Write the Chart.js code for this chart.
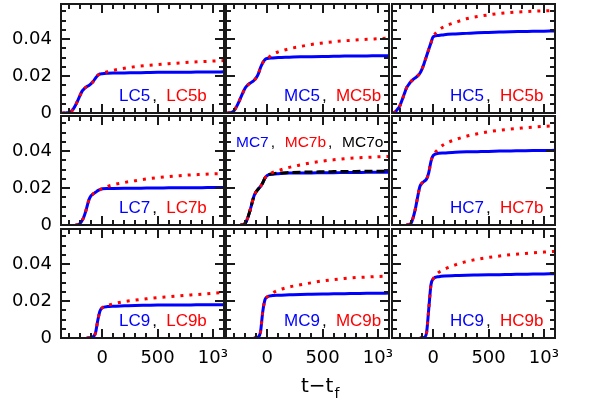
<!DOCTYPE html>
<html>
<head>
<meta charset="utf-8">
<script src="https://cdn.jsdelivr.net/npm/chart.js@4/dist/chart.umd.min.js"></script>
<style>
  html, body { margin: 0; padding: 0; background: #fff; }
  #fig { position: relative; width: 598px; height: 409px; overflow: hidden; }
  #fig canvas { position: absolute; }
</style>
</head>
<body>
<div id="fig"></div>
<script>
// shared time grid (t - t_f)
const times = [-360, -340, -320, -300, -280, -260, -240, -220, -200, -180, -160, -140, -120, -100, -80, -60, -40, -20, 0,
  50, 100, 200, 300, 400, 500, 600, 700, 800, 900, 1000, 1100]

// rise phase (t <= 0), blue and red curves coincide there
const lc5Rise = [0, 0, 0.0001, 0.0002, 0.0008, 0.0022, 0.0043, 0.0068, 0.0095, 0.012, 0.0133, 0.0142, 0.0149, 0.0159, 0.0172, 0.0189, 0.0204, 0.0211, 0.0213]
const mc5Rise = [0, 0.0001, 0.0003, 0.0012, 0.0031, 0.0055, 0.0082, 0.0109, 0.0134, 0.0149, 0.0159, 0.0167, 0.0176, 0.019, 0.0212, 0.0246, 0.0272, 0.0289, 0.0295]
const hc5Rise = [0, 0.0008, 0.0022, 0.004, 0.0072, 0.0105, 0.0137, 0.0155, 0.017, 0.0182, 0.0191, 0.0201, 0.0215, 0.0239, 0.0272, 0.0309, 0.0345, 0.038, 0.0413]
const lc7Rise = [null, null, null, null, null, null, 0, 0.0002, 0.0008, 0.0025, 0.0053, 0.0093, 0.0136, 0.0159, 0.0169, 0.0177, 0.0186, 0.0192, 0.0196]
const mc7Rise = [null, null, null, null, null, null, 0, 0.0002, 0.0008, 0.0032, 0.0068, 0.0112, 0.0156, 0.018, 0.0195, 0.0209, 0.0229, 0.0254, 0.0268]
const hc7Rise = [null, null, null, null, null, null, 0, 0.0003, 0.0009, 0.0042, 0.009, 0.0153, 0.0208, 0.0227, 0.0237, 0.0249, 0.0283, 0.0345, 0.0376]
const lc9Rise = [null, null, null, null, null, null, null, null, null, null, null, 0, 0.0001, 0.0002, 0.0008, 0.0028, 0.0095, 0.0146, 0.0163]
const mc9Rise = [null, null, null, null, null, null, null, null, null, null, null, null, 0, 0.0001, 0.0005, 0.0034, 0.0143, 0.0207, 0.0222]
const hc9Rise = [null, null, null, null, null, null, null, null, null, null, null, null, 0, 0.0001, 0.0004, 0.0028, 0.0158, 0.0288, 0.032]

// t > 0 : blue (runs), red (b runs), black (o run)
const lc5Tail = [0.0215, 0.0216, 0.0217, 0.0218, 0.0219, 0.022, 0.022, 0.0221, 0.0221, 0.0222, 0.0222, 0.0223]
const lc5bTail = [0.0224, 0.0231, 0.0242, 0.0251, 0.0257, 0.0262, 0.0267, 0.0271, 0.0275, 0.0278, 0.0281, 0.0284]
const mc5Tail = [0.0298, 0.03, 0.0302, 0.0304, 0.0305, 0.0306, 0.0307, 0.0308, 0.0309, 0.0309, 0.031, 0.031]
const mc5bTail = [0.0318, 0.0331, 0.0348, 0.036, 0.0371, 0.0379, 0.0386, 0.0391, 0.0395, 0.0399, 0.0402, 0.0405]
const hc5Tail = [0.042, 0.0424, 0.0428, 0.0431, 0.0434, 0.0436, 0.0438, 0.044, 0.0441, 0.0442, 0.0443, 0.0444]
const hc5bTail = [0.0448, 0.0468, 0.049, 0.051, 0.0522, 0.0531, 0.0539, 0.0544, 0.0548, 0.0551, 0.0553, 0.0555]
const lc7Tail = [0.0197, 0.0198, 0.0199, 0.0199, 0.02, 0.02, 0.0201, 0.0201, 0.0202, 0.0202, 0.0203, 0.0203]
const lc7bTail = [0.0209, 0.0218, 0.023, 0.024, 0.0249, 0.0256, 0.0262, 0.0267, 0.0271, 0.0274, 0.0277, 0.0279]
const mc7Tail = [0.0275, 0.0278, 0.0281, 0.0282, 0.0282, 0.0283, 0.0283, 0.0284, 0.0284, 0.0285, 0.0285, 0.0285]
const mc7bTail = [0.0285, 0.0295, 0.0312, 0.0325, 0.0337, 0.0346, 0.0353, 0.0359, 0.0363, 0.0366, 0.0369, 0.0371]
const mc7oTail = [0.0277, 0.0281, 0.0284, 0.0286, 0.0287, 0.0288, 0.0289, 0.029, 0.029, 0.0291, 0.0291, 0.0292]
const hc7Tail = [0.0388, 0.039, 0.0394, 0.0396, 0.0397, 0.0398, 0.04, 0.0401, 0.0402, 0.0403, 0.0403, 0.0404]
const hc7bTail = [0.0414, 0.0437, 0.0462, 0.048, 0.0494, 0.0505, 0.0513, 0.0519, 0.0525, 0.053, 0.0534, 0.0537]
const lc9Tail = [0.017, 0.0172, 0.0174, 0.0176, 0.0177, 0.0178, 0.0178, 0.0179, 0.0179, 0.018, 0.018, 0.018]
const lc9bTail = [0.0177, 0.0185, 0.0197, 0.0205, 0.0212, 0.0218, 0.0223, 0.0228, 0.0233, 0.0237, 0.0242, 0.0246]
const mc9Tail = [0.023, 0.0232, 0.0234, 0.0236, 0.0237, 0.0238, 0.0239, 0.024, 0.0241, 0.0242, 0.0242, 0.0243]
const mc9bTail = [0.0244, 0.0259, 0.0276, 0.0288, 0.0299, 0.0309, 0.0316, 0.0322, 0.0327, 0.033, 0.0333, 0.0335]
const hc9Tail = [0.0332, 0.0336, 0.0338, 0.034, 0.0341, 0.0342, 0.0343, 0.0344, 0.0345, 0.0346, 0.0347, 0.0348]
const hc9bTail = [0.0355, 0.0372, 0.0396, 0.0414, 0.0426, 0.0436, 0.0444, 0.0451, 0.0456, 0.0461, 0.0465, 0.0469]

const xTicks = [-300, -200, -100, 0, 100, 200, 300, 400, 500, 600, 700, 800, 900, 1000]
const xTickLabels = { 0: '0', 500: '500', 1000: '10³' }
const yTicks = [0, 0.005, 0.01, 0.015, 0.02, 0.025, 0.03, 0.035, 0.04, 0.045, 0.05, 0.055]
const yTickLabels = { 0: '0', 0.02: '0.02', 0.04: '0.04' }

const panels = [
  { name: 'LC5', rise: lc5Rise, blue: lc5Tail, red: lc5bTail },
  { name: 'MC5', rise: mc5Rise, blue: mc5Tail, red: mc5bTail },
  { name: 'HC5', rise: hc5Rise, blue: hc5Tail, red: hc5bTail },
  { name: 'LC7', rise: lc7Rise, blue: lc7Tail, red: lc7bTail },
  { name: 'MC7', rise: mc7Rise, blue: mc7Tail, red: mc7bTail, black: mc7oTail },
  { name: 'HC7', rise: hc7Rise, blue: hc7Tail, red: hc7bTail },
  { name: 'LC9', rise: lc9Rise, blue: lc9Tail, red: lc9bTail },
  { name: 'MC9', rise: mc9Rise, blue: mc9Tail, red: mc9bTail },
  { name: 'HC9', rise: hc9Rise, blue: hc9Tail, red: hc9bTail }
]

const colLeft = [61, 226, 392]
const rowTop = [4, 116, 229]
const panelW = 163, panelH = 109
const padL = 61, padT = 4, padR = 4

const BLUE = '#0000ff', RED = '#ff0000', INK = '#1a1a1a'

function points(vals) {
  return times.map((t, i) => ({ x: t, y: vals[i] })).filter(p => p.y !== null && p.y !== undefined)
}

const panelDeco = {
  id: 'panelDeco',
  afterDatasetsDraw(chart, args, opts) {
    const { ctx, chartArea: a } = chart
    const x = chart.scales.x, y = chart.scales.y
    ctx.save()
    ctx.strokeStyle = INK
    ctx.lineWidth = 2
    ctx.beginPath()
    x.ticks.forEach(t => {
      const px = Math.round(x.getPixelForValue(t.value))
      const len = (t.value in xTickLabels) ? 9 : 5
      ctx.moveTo(px, a.bottom); ctx.lineTo(px, a.bottom - len)
      ctx.moveTo(px, a.top); ctx.lineTo(px, a.top + len)
    })
    y.ticks.forEach(t => {
      const py = Math.round(y.getPixelForValue(t.value))
      const len = (t.value in yTickLabels) ? 9 : 5
      ctx.moveTo(a.left, py); ctx.lineTo(a.left + len, py)
      ctx.moveTo(a.right, py); ctx.lineTo(a.right - len, py)
    })
    ctx.stroke()
    ctx.strokeRect(a.left, a.top, a.right - a.left, a.bottom - a.top)

    // run labels
    ctx.textBaseline = 'alphabetic'
    ctx.textAlign = 'left'
    ctx.font = opts.size + 'px "Liberation Sans", Arial, sans-serif'
    let cx = a.left + opts.dx
    const by = opts.top ? a.top + opts.dy : a.bottom - opts.dy
    opts.segments.forEach((s, i) => {
      ctx.fillStyle = s[1]
      ctx.fillText(s[0], cx, by)
      const w = ctx.measureText(s[0]).width
      if (i < opts.segments.length - 1) {
        ctx.fillStyle = '#000'
        ctx.fillText(',', cx + w + 2, by)
        cx += w + opts.gap
      }
    })

    if (opts.title) {
      ctx.fillStyle = '#000'
      ctx.font = '20px "DejaVu Sans", sans-serif'
      const tx = a.left + 75, ty = a.bottom + 54
      ctx.fillText('t−t', tx, ty)
      const tw = ctx.measureText('t−t').width
      ctx.font = '14px "DejaVu Sans", sans-serif'
      ctx.fillText('f', tx + tw + 1, ty + 6)
    }
    ctx.restore()
  }
}

const fig = document.getElementById('fig')

panels.forEach((p, k) => {
  const row = Math.floor(k / 3), col = k % 3
  const isBottom = row === 2, isLeft = col === 0
  const padB = isBottom ? 409 - (rowTop[row] + panelH) : 8

  const canvas = document.createElement('canvas')
  canvas.width = padL + panelW + padR
  canvas.height = padT + panelH + padB
  canvas.style.left = (colLeft[col] - padL) + 'px'
  canvas.style.top = (rowTop[row] - padT) + 'px'
  fig.appendChild(canvas)

  const datasets = [{
    data: points(p.rise.concat(p.red)),
    borderColor: RED, borderWidth: 3, borderDash: [3, 6], order: 0
  }]
  if (p.black) {
    datasets.push({ data: points(p.rise.concat(p.black)), borderColor: '#000', borderWidth: 3, borderDash: [8, 4], order: 1 })
  }
  datasets.push({ data: points(p.rise.concat(p.blue)), borderColor: BLUE, borderWidth: 3, order: 2 })

  let segments = [[p.name, BLUE], [p.name + 'b', RED]]
  let deco = { segments, size: 17, dx: 58, dy: 12, gap: 16, top: false }
  if (p.black) {
    segments = [[p.name, BLUE], [p.name + 'b', RED], [p.name + 'o', '#000']]
    deco = { segments, size: 15.5, dx: 10, dy: 31, gap: 16, top: true }
  }
  deco.title = isBottom && col === 1

  new Chart(canvas, {
    type: 'line',
    data: { datasets },
    options: {
      responsive: false,
      animation: false,
      devicePixelRatio: 1,
      layout: { autoPadding: false, padding: { top: padT, right: padR, left: 0, bottom: 0 } },
      elements: {
        point: { radius: 0 },
        line: { fill: false, cubicInterpolationMode: 'monotone', borderCapStyle: 'butt' }
      },
      plugins: { legend: { display: false }, tooltip: { enabled: false }, panelDeco: deco },
      scales: {
        x: {
          type: 'linear', min: -372, max: 1100,
          grid: { display: false, drawTicks: false },
          border: { display: false },
          afterBuildTicks: s => { s.ticks = xTicks.map(v => ({ value: v })) },
          afterFit: s => {
            s.height = padB
            s.paddingLeft = 0; s.paddingRight = 0; s.paddingTop = 0; s.paddingBottom = 0
          },
          ticks: {
            display: isBottom, autoSkip: false, maxRotation: 0, padding: 10,
            color: '#000', font: { family: 'DejaVu Sans', size: 18 },
            callback: v => xTickLabels[v] ?? ''
          }
        },
        y: {
          type: 'linear', min: 0, max: 0.059,
          grid: { display: false, drawTicks: false },
          border: { display: false },
          afterBuildTicks: s => { s.ticks = yTicks.map(v => ({ value: v })) },
          afterFit: s => {
            s.width = padL
            s.paddingLeft = 0; s.paddingRight = 0; s.paddingTop = 0; s.paddingBottom = 0
          },
          ticks: {
            display: isLeft, autoSkip: false, padding: 9,
            color: '#000', font: { family: 'DejaVu Sans', size: 18 },
            callback: v => yTickLabels[v] ?? ''
          }
        }
      }
    },
    plugins: [panelDeco]
  })
})
</script>
</body>
</html>
